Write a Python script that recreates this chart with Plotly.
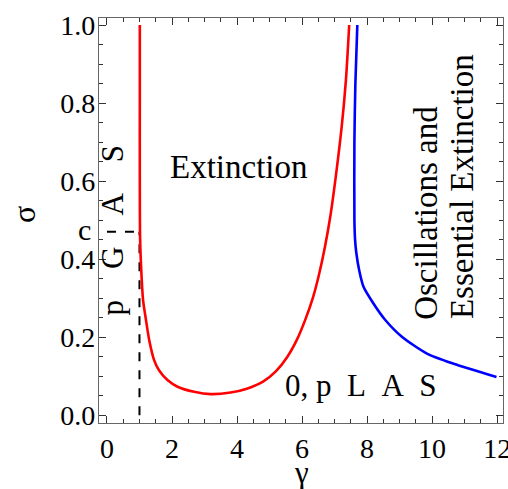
import plotly.graph_objects as go

# Red boundary curve (gamma, sigma)
gamma_red = [1.01, 1.01, 1.01, 1.02, 1.07, 1.11, 1.20, 1.30, 1.45, 1.60, 1.86, 2.17, 2.68, 3.19,
             3.8, 4.3, 4.8, 5.2, 5.55, 5.85, 6.1, 6.33, 6.52, 6.7, 6.87, 7.05, 7.22, 7.35, 7.45]
sigma_red = [1.0, 0.8, 0.6, 0.45, 0.346, 0.295, 0.244, 0.192, 0.141, 0.115, 0.09, 0.073, 0.06, 0.054,
             0.058, 0.068, 0.086, 0.113, 0.15, 0.195, 0.245, 0.30, 0.36, 0.43, 0.51, 0.62, 0.74, 0.86, 1.0]

# Blue boundary curve (gamma, sigma)
gamma_blue = [7.70, 7.64, 7.61, 7.61, 7.63, 7.67, 7.76, 7.89, 8.19, 8.56, 9.07, 9.84, 10.66, 11.98]
sigma_blue = [1.0, 0.85, 0.70, 0.50, 0.45, 0.415, 0.37, 0.329, 0.287, 0.244, 0.201, 0.158, 0.132, 0.098]

# Critical point marked with dashed guides
gamma_c = 1.0
sigma_c = 0.47

x_ticks = [0, 2, 4, 6, 8, 10, 12]
y_ticks = [0.0, 0.2, 0.4, 0.6, 0.8, 1.0]

FONT = "Liberation Serif"
NB = "\u00a0"

fig = go.Figure()

fig.add_trace(go.Scatter(
    x=[gamma_c, gamma_c], y=[0, sigma_c], mode="lines",
    line=dict(color="black", width=2, dash="dash"), hoverinfo="skip"))
fig.add_trace(go.Scatter(
    x=[0, gamma_c], y=[sigma_c, sigma_c], mode="lines",
    line=dict(color="black", width=2, dash="dash"), hoverinfo="skip"))
fig.add_trace(go.Scatter(
    x=gamma_red, y=sigma_red, mode="lines",
    line=dict(color="#ff0000", width=2.6, shape="spline", smoothing=0.7)))
fig.add_trace(go.Scatter(
    x=gamma_blue, y=sigma_blue, mode="lines",
    line=dict(color="#0000ff", width=2.6, shape="spline", smoothing=0.7)))

annots = [
    dict(x=4.05, y=0.635, text="Extinction", textangle=0, size=33),
    dict(x=7.82, y=0.075, text=f"0,{NB}p{NB*2}L{NB*2}A{NB*2}S", textangle=0, size=31),
    dict(x=0.16, y=0.474, text=f"p{NB*4}G{NB*4}A{NB*4}S", textangle=-90, size=31),
]
for a in annots:
    fig.add_annotation(x=a["x"], y=a["y"], xref="x", yref="y", text=a["text"],
                       textangle=a["textangle"], showarrow=False,
                       xanchor="center", yanchor="middle",
                       font=dict(family=FONT, size=a["size"], color="black"))

# label for the critical sigma level, placed beside the axis
fig.add_annotation(x=-0.037, y=sigma_c + 0.005, xref="paper", yref="y", text="c",
                   showarrow=False, xanchor="center", yanchor="middle",
                   font=dict(family=FONT, size=30, color="black"))

fig.add_annotation(x=9.79, y=0.24, xref="x", yref="y", text="Oscillations and",
                   textangle=-90, showarrow=False, xanchor="center", yanchor="bottom",
                   font=dict(family=FONT, size=33, color="black"))
fig.add_annotation(x=10.92, y=0.24, xref="x", yref="y", text="Essential Extinction",
                   textangle=-90, showarrow=False, xanchor="center", yanchor="bottom",
                   font=dict(family=FONT, size=33, color="black"))

# axis titles
fig.add_annotation(x=0.502, y=-0.121, xref="paper", yref="paper", text="γ",
                   showarrow=False, xanchor="center", yanchor="middle",
                   font=dict(family=FONT, size=31, color="black"))
fig.add_annotation(x=-0.186, y=0.516, xref="paper", yref="paper", text="σ",
                   textangle=-90, showarrow=False, xanchor="center", yanchor="middle",
                   font=dict(family=FONT, size=32, color="black"))

axis_common = dict(
    showgrid=False, zeroline=False, showline=True, linecolor="#666", linewidth=1.2,
    mirror="allticks", ticks="inside", ticklen=7, tickwidth=1, tickcolor="#333",
    tickfont=dict(family=FONT, size=28, color="black"), ticklabeloverflow="allow",
    automargin=False,
)

fig.update_xaxes(
    range=[-0.245, 12.18], tickvals=x_ticks, ticktext=[str(v) for v in x_ticks],
    minor=dict(dtick=0.5, ticks="inside", ticklen=4, tickcolor="#333"),
    **axis_common)
fig.update_yaxes(
    range=[-0.02, 1.018], tickvals=y_ticks, ticktext=[f"{v:.1f}" for v in y_ticks],
    minor=dict(dtick=0.05, ticks="inside", ticklen=4, tickcolor="#333"),
    ticklabelstandoff=-3,
    **axis_common)

fig.update_layout(
    width=508, height=489, showlegend=False,
    margin=dict(l=99, r=5, t=18, b=66),
    plot_bgcolor="white", paper_bgcolor="white",
)

fig.write_html("out.html")
